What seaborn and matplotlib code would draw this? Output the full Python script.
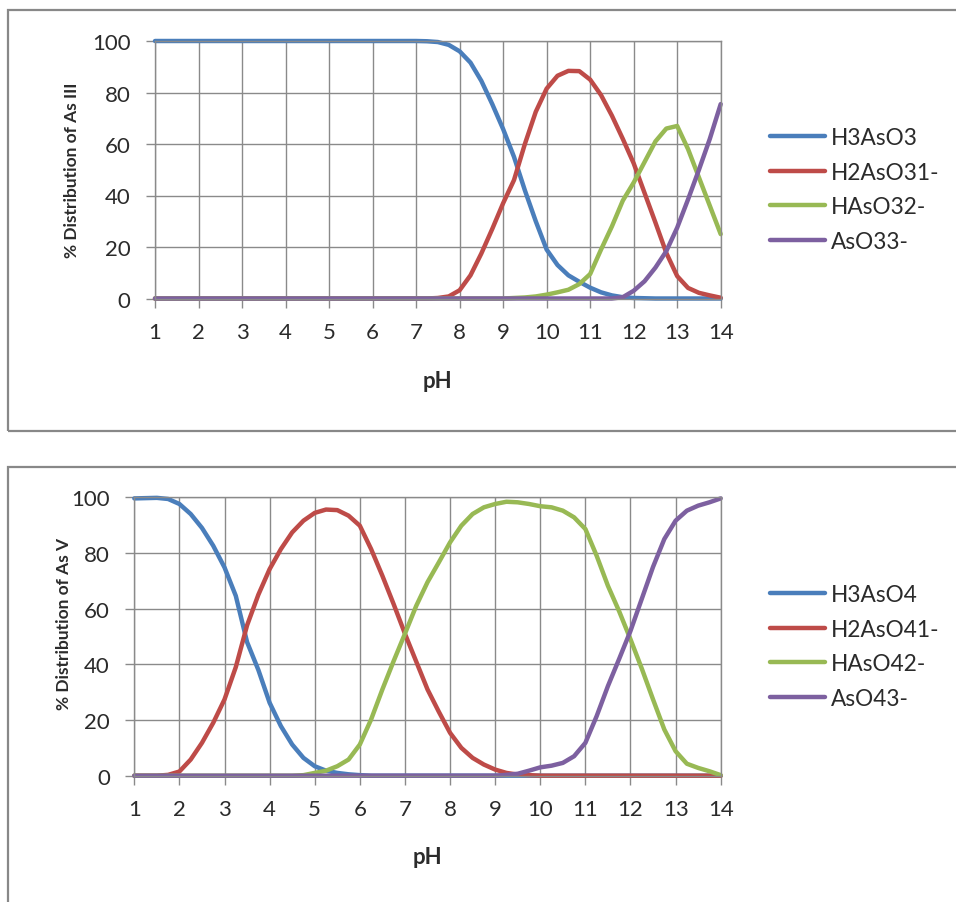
import matplotlib
matplotlib.use("Agg")
import matplotlib.pyplot as plt
from matplotlib.patches import Rectangle
import seaborn as sns
import numpy as np

# pH axis, 0.25 steps from 1 to 14
ph = np.arange(1, 14.001, 0.25)

# --- As(III) species, % distribution ---
h3aso3 = [100] * 25 + [99.9, 99.6, 98.5, 96, 91.6, 84.5, 75.5, 65.8, 55, 42, 30, 19,
                       13, 9, 6.5, 4.2, 2.4, 1.2, 0.5, 0.2, 0.1] + [0] * 7
h2aso3 = [0] * 26 + [0.2, 0.8, 3.2, 9, 17.5, 27, 37, 46, 60, 72.5, 81.5, 86.5, 88.4,
                     88.3, 85, 79, 71, 62, 52.5, 41, 29.5, 17.7, 8.7, 4.1, 2.2, 1.2, 0.3]
haso3 = [0] * 33 + [0.2, 0.4, 0.8, 1.5, 2.4, 3.4, 5.6, 9.5, 19, 28, 38, 45, 53, 61,
                    66, 67, 58, 47, 36, 25]
aso3 = [0] * 43 + [0.5, 3, 6.7, 12, 18.4, 27.5, 38.5, 50, 62, 75.5]

# --- As(V) species ---
h3aso4 = [99.6, 99.7, 99.8, 99.4, 97.6, 94, 89, 82.6, 74.8, 64.6, 48, 38, 26.2, 17.8,
          11.2, 6.4, 3.4, 1.8, 1, 0.5, 0.2] + [0] * 32
h2aso4 = [0, 0, 0, 0.3, 1.5, 5.8, 11.8, 19, 27.4, 39, 54, 65, 74.2, 81.4, 87.4, 91.6,
          94.4, 95.6, 95.4, 93.4, 89.8, 81.4, 71.8, 61.6, 51, 41, 31, 23, 15.4, 10,
          6.4, 4, 2.2, 1, 0.4, 0.2] + [0] * 17
haso4 = [0] * 15 + [0.2, 1, 1.8, 3.4, 5.8, 11.2, 20.2, 31, 41.2, 51, 61, 69.5, 76.6,
                    83.8, 89.8, 94, 96.4, 97.6, 98.4, 98.2, 97.6, 96.8, 96.4, 95.2, 92.8,
                    88.6, 79, 68.2, 59, 49, 38.5, 27.4, 16.6, 8.8, 4.3, 2.8, 1.6, 0.2]
aso4 = [0] * 33 + [0.3, 0.7, 1.8, 3, 3.6, 4.6, 7, 11.8, 21.4, 32.2, 42, 52, 63.5, 75,
                   85, 91.6, 95.2, 97, 98.2, 99.6]

names_3 = ["H3AsO3", "H2AsO31-", "HAsO32-", "AsO33-"]
names_5 = ["H3AsO4", "H2AsO41-", "HAsO42-", "AsO43-"]
colors = ["#4A7EBB", "#BE4B48", "#98B954", "#7D60A0"]
ticks_x = list(range(1, 15))
ticks_y = [0, 20, 40, 60, 80, 100]

sns.set_theme(style="white")
plt.rcParams["font.family"] = ["Lato", "DejaVu Sans"]

W, H = 956, 903
fig = plt.figure(figsize=(W / 100, H / 100), dpi=100)

# chart frames (Excel chart area borders)
fig.patches.append(Rectangle((8 / W, 1 - 432 / H), 1.0, (432 - 11) / H, transform=fig.transFigure,
                             fill=False, ec="#888888", lw=1.6))
fig.patches.append(Rectangle((8 / W, -0.1), 1.0, (903 - 468) / H + 0.1, transform=fig.transFigure,
                             fill=False, ec="#888888", lw=1.6))


def draw(ax, series, names, ylabel, lab_pos, leg_top):
    for vals, name, c in zip(series, names, colors):
        sns.lineplot(x=ph, y=vals, color=c, label=name, lw=3.2, ax=ax, clip_on=False,
                     solid_capstyle="round", solid_joinstyle="round")
    ax.set_xlim(1, 14)
    ax.set_ylim(0, 100)
    ax.set_xticks(ticks_x)
    ax.set_yticks(ticks_y)
    ax.grid(True, color="#8a8a8a", lw=1)
    for s in ax.spines.values():
        s.set_color("#8a8a8a")
        s.set_linewidth(1)
    ax.tick_params(axis="both", direction="out", length=6.5, width=1, color="#8a8a8a",
                   labelsize=16, labelcolor="#2b2b2b", bottom=True, left=True)
    ax.tick_params(axis="y", pad=11)
    ax.tick_params(axis="x", pad=10.5)
    ax.set_xlabel("pH", fontsize=16, fontweight="bold", color="#2b2b2b", va="center")
    ax.set_ylabel(ylabel, fontsize=12.5, fontweight="bold", color="#2b2b2b", va="center")
    ax.xaxis.set_label_coords(0.5, lab_pos[0])
    ax.yaxis.set_label_coords(lab_pos[1], lab_pos[2])
    ax.legend(loc="upper left", bbox_to_anchor=(770 / W, leg_top), bbox_transform=fig.transFigure,
              frameon=False, fontsize=16.3, handlelength=2.45, handletextpad=0.22,
              labelspacing=0.6, borderpad=0, borderaxespad=0, labelcolor="#2b2b2b")


ax1 = fig.add_axes([155 / W, 1 - 299.5 / H, 565.7 / W, 257.5 / H])
draw(ax1, [h3aso3, h2aso3, haso3, aso3], names_3, "% Distribution of As III",
     (-0.32, -0.147, 0.5), 1 - 128 / H)

ax2 = fig.add_axes([134.3 / W, 1 - 776.7 / H, 586.4 / W, 278.4 / H])
draw(ax2, [h3aso4, h2aso4, haso4, aso4], names_5, "% Distribution of As V",
     (-0.292, -0.12, 0.548), 1 - 585 / H)

fig.savefig("out.png", dpi=100)
